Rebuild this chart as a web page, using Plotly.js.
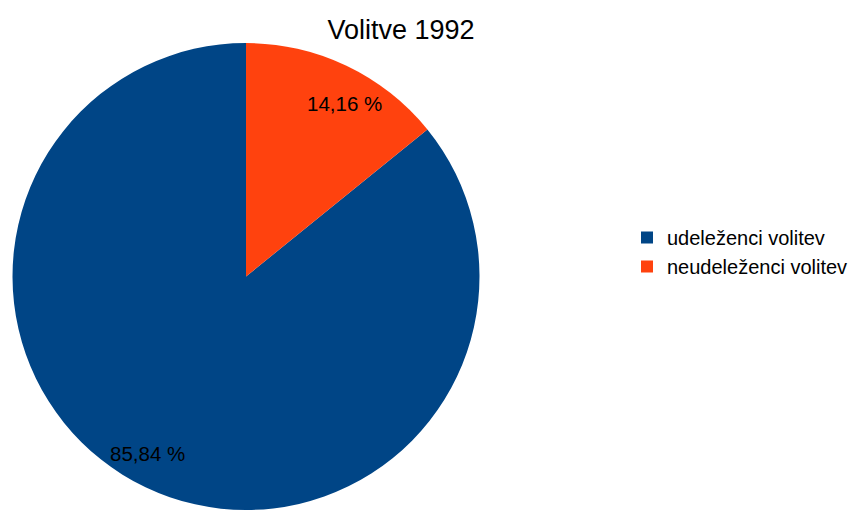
<!DOCTYPE html>
<html>
<head>
<meta charset="utf-8">
<script src="https://cdn.plot.ly/plotly-3.0.1.min.js"></script>
<style>html,body{margin:0;padding:0;background:#fff;}#chart{width:854px;height:510px;}</style>
</head>
<body>
<div id="chart"></div>
<script>
const categories = ["udeleženci volitev", "neudeleženci volitev"];
const values = [85.84, 14.16];
const colors = ["#004586", "#ff420e"];
const titleText = "Volitve 1992";

const W = 854, H = 510;
const dom = {x: [12 / W, 480 / W], y: [0, 467 / H]};
const cx = (dom.x[0] + dom.x[1]) / 2 * W;
const r = Math.min((dom.x[1] - dom.x[0]) * W, (dom.y[1] - dom.y[0]) * H) / 2;
const cy = H - ((dom.y[0]) * H + r);

const total = values.reduce((a, b) => a + b, 0);
// the last slice ends at 12 o'clock, slices run clockwise
const rotation = 360 * values[values.length - 1] / total;

const annotations = [];
let cum = 0;
values.forEach((v, i) => {
  const midDeg = rotation + (cum + v / 2) / total * 360 + 4;
  cum += v;
  const ang = midDeg * Math.PI / 180;
  const px = cx + Math.sin(ang) * r * 0.86;
  const py = cy - Math.cos(ang) * r * 0.86;
  annotations.push({
    x: px / W, y: 1 - py / H, xref: "paper", yref: "paper",
    text: (v / total * 100).toFixed(2).replace(".", ",") + " %",
    showarrow: false, xanchor: "center", yanchor: "middle", yshift: -2,
    font: {family: "Liberation Sans, Arial, sans-serif", size: 20.5, color: "#000"}
  });
});

const data = [{
  type: "pie",
  labels: categories,
  values: values,
  marker: {colors: colors, line: {width: 0}},
  sort: false,
  direction: "clockwise",
  rotation: rotation,
  textinfo: "none",
  hoverinfo: "label+percent",
  domain: dom
}];

const layout = {
  width: W, height: H,
  margin: {l: 0, r: 0, t: 0, b: 0},
  paper_bgcolor: "#fff",
  font: {family: "Liberation Sans, Arial, sans-serif", color: "#000"},
  title: {text: titleText, x: 401 / W, xanchor: "center", y: 1 - 30 / H, yanchor: "middle",
          font: {family: "Liberation Sans, Arial, sans-serif", size: 27, color: "#000"}},
  showlegend: true,
  legend: {x: 627 / W, xanchor: "left", y: 1 - 252 / H, yanchor: "middle",
           font: {family: "Liberation Sans, Arial, sans-serif", size: 20, color: "#000"},
           bgcolor: "rgba(0,0,0,0)"},
  annotations: annotations
};

Plotly.newPlot("chart", data, layout, {displayModeBar: false, staticPlot: true});
</script>
</body>
</html>
